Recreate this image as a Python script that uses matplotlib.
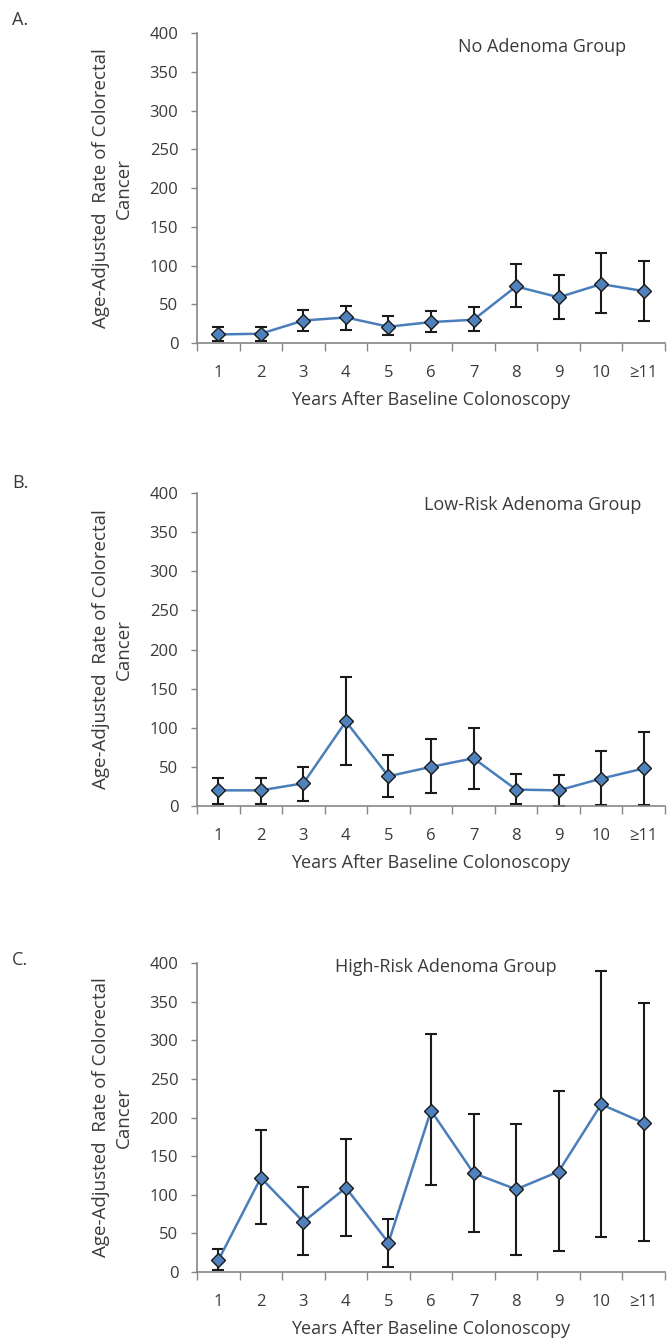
import numpy as np
import matplotlib
matplotlib.use('Agg')
import matplotlib.pyplot as plt
from matplotlib.ticker import FixedLocator, NullFormatter

plt.rcParams['font.family'] = ['Open Sans', 'DejaVu Sans']

years = ['1', '2', '3', '4', '5', '6', '7', '8', '9', '10', '\u226511']

# No adenoma group
no_rate = [11, 12, 29, 33, 21, 27, 30, 73, 59, 76, 67]
no_lo = [3, 3, 16, 17, 10, 14, 15, 46, 31, 39, 29]
no_hi = [21, 21, 42, 48, 35, 41, 46, 102, 88, 116, 106]

# Low-risk adenoma group
low_rate = [20, 20, 29, 108, 38, 50, 61, 21, 20, 35, 48]
low_lo = [3, 3, 6, 52, 11, 17, 22, 3, 0, 1, 1]
low_hi = [36, 36, 50, 165, 65, 85, 100, 41, 39, 70, 94]

# High-risk adenoma group
high_rate = [15, 122, 65, 109, 38, 209, 128, 107, 130, 217, 193]
high_lo = [2, 62, 22, 47, 7, 112, 52, 22, 27, 45, 40]
high_hi = [30, 184, 110, 172, 68, 308, 204, 192, 234, 390, 348]

titles = ['No Adenoma Group', 'Low-Risk Adenoma Group', 'High-Risk Adenoma Group']
letters = ['A.', 'B.', 'C.']

W, H = 671, 1343
fig = plt.figure(figsize=(W / 100, H / 100), dpi=100)

# axes boxes in pixels: (top, bottom)
boxes = [(33, 343), (493, 806), (963, 1272)]
x0, x1 = 197, 665
title_pos = [(0.737, 0.955), (0.718, 0.962), (0.532, 0.987)]
letter_y = [20, 483, 960]

series = [(no_rate, no_lo, no_hi), (low_rate, low_lo, low_hi), (high_rate, high_lo, high_hi)]

grey = '#868686'
txt = '#3a3a3a'
line_blue = '#4A7EBB'
fill_blue = '#4F81BD'

for i, ((top, bot), (rate, lo, hi)) in enumerate(zip(boxes, series)):
    ax = fig.add_axes([x0 / W, 1 - bot / H, (x1 - x0) / W, (bot - top) / H])
    x = np.arange(1, len(years) + 1)
    rate = np.array(rate)
    yerr = [rate - np.array(lo), np.array(hi) - rate]
    ax.errorbar(x, rate, yerr=yerr, fmt='none', ecolor='#1a1a1a', elinewidth=1.5,
                capsize=4.5, capthick=1.5, zorder=2)
    ax.plot(x, rate, color=line_blue, lw=1.8, marker='D', markersize=7,
            markerfacecolor=fill_blue, markeredgecolor='#1a1a1a', markeredgewidth=1.0, zorder=3)

    ax.set_xlim(0.5, len(years) + 0.5)
    ax.set_ylim(0, 400)
    ax.set_yticks(np.arange(0, 401, 50))

    ax.xaxis.set_major_locator(FixedLocator(np.arange(0.5, len(years) + 1, 1)))
    ax.xaxis.set_major_formatter(NullFormatter())
    ax.xaxis.set_minor_locator(FixedLocator(x))
    ax.set_xticklabels(years, minor=True)
    ax.tick_params(axis='x', which='major', length=6, width=1, color=grey, direction='out')
    ax.tick_params(axis='x', which='minor', length=0, pad=16, labelsize=12, labelcolor=txt)
    ax.tick_params(axis='y', length=4, width=1, color=grey, direction='out', pad=9.5,
                   labelsize=12, labelcolor=txt)

    for s in ['top', 'right']:
        ax.spines[s].set_visible(False)
    for s in ['left', 'bottom']:
        ax.spines[s].set_color(grey)
        ax.spines[s].set_linewidth(1.2)

    ax.set_ylabel('Age-Adjusted  Rate of Colorectal\nCancer', fontsize=13.5, color=txt,
                  labelpad=12, linespacing=1.35)
    ax.set_xlabel('Years After Baseline Colonoscopy', fontsize=13, color=txt, labelpad=7)
    ax.text(title_pos[i][0], title_pos[i][1], titles[i], transform=ax.transAxes,
            ha='center', va='center', fontsize=13, color=txt)
    fig.text(12 / W, 1 - letter_y[i] / H, letters[i], ha='left', va='center',
             fontsize=13, color=txt)

fig.savefig('out.png', dpi=100)
